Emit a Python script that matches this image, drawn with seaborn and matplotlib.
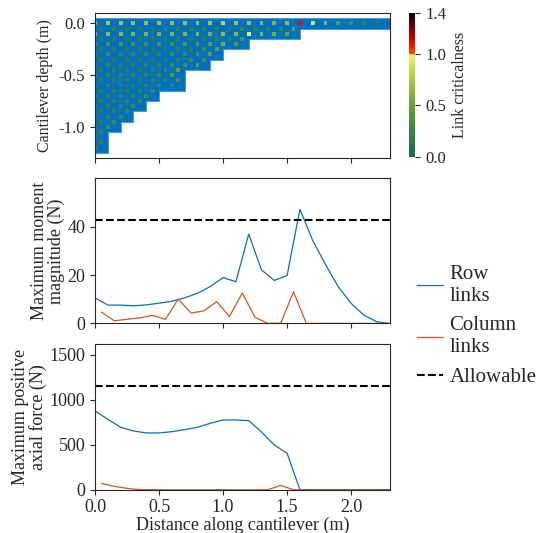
import numpy as np
import pandas as pd
import seaborn as sns
import matplotlib.pyplot as plt
from matplotlib.colors import LinearSegmentedColormap, Normalize
from matplotlib.cm import ScalarMappable

# lattice: depth (m) of each 0.1 m wide column, left to right
col_depth = [1.2, 1.0, 0.9, 0.8, 0.7, 0.6, 0.6, 0.4, 0.4, 0.3, 0.2, 0.2,
             0.1, 0.1, 0.1, 0.1, 0.0, 0.0, 0.0, 0.0, 0.0, 0.0, 0.0]

# link criticalness, one list per lattice row (top first)
row_link_crit = [
    [0.72, 0.74, 0.74, 0.72, 0.72, 0.70, 0.70, 0.70, 0.72, 0.74, 0.85, 0.72,
     0.72, 0.66, 0.62, 0.68, 1.10, 0.88, 0.62, 0.45, 0.35, 0.25, 0.20],
    [0.70, 0.68, 0.66, 0.64, 0.62, 0.62, 0.62, 0.64, 0.64, 0.62, 0.68, 0.62,
     0.95, 0.62, 0.58, 0.50],
    [0.42, 0.40, 0.38, 0.36, 0.36, 0.36, 0.38, 0.40, 0.42, 0.48, 0.60, 0.45],
    [0.30, 0.28, 0.27, 0.26, 0.26, 0.26, 0.28, 0.30, 0.35, 0.45],
    [0.28, 0.26, 0.25, 0.25, 0.25, 0.26, 0.28, 0.35, 0.45],
    [0.26, 0.25, 0.24, 0.24, 0.25, 0.30, 0.42],
    [0.25, 0.24, 0.23, 0.24, 0.26, 0.30, 0.30],
    [0.24, 0.23, 0.23, 0.25, 0.30],
    [0.24, 0.23, 0.25, 0.30],
    [0.24, 0.25, 0.30],
    [0.25, 0.30],
    [0.30],
    [0.30],
]
col_link_crit = [
    [0.22, 0.20, 0.20, 0.20, 0.20, 0.22, 0.25, 0.22, 0.22, 0.25, 0.20, 0.28,
     0.22, 0.22, 0.30, 0.45],
    [0.20, 0.20, 0.20, 0.20, 0.20, 0.20, 0.22, 0.20, 0.20, 0.22, 0.25, 0.40],
    [0.20, 0.20, 0.20, 0.20, 0.20, 0.20, 0.22, 0.22, 0.30, 0.45],
    [0.20, 0.20, 0.20, 0.20, 0.20, 0.20, 0.22, 0.30, 0.35],
    [0.20, 0.20, 0.20, 0.20, 0.22, 0.30, 0.50],
    [0.20, 0.20, 0.20, 0.20, 0.22, 0.30, 0.35],
    [0.20, 0.20, 0.20, 0.22, 0.30],
    [0.20, 0.20, 0.22, 0.28],
    [0.20, 0.22, 0.28],
    [0.22, 0.28],
    [0.25],
    [0.25],
]

# envelopes along the cantilever
x_row = [0.0, 0.1, 0.2, 0.3, 0.4, 0.5, 0.6, 0.7, 0.8, 0.9, 1.0, 1.1,
         1.2, 1.3, 1.4, 1.5, 1.6, 1.7, 1.8, 1.9, 2.0, 2.1, 2.2, 2.3]
x_col = [0.05, 0.15, 0.25, 0.35, 0.45, 0.55, 0.65, 0.75, 0.85, 0.95, 1.05, 1.15,
         1.25, 1.35, 1.45, 1.55, 1.65, 1.75, 1.85, 1.95, 2.05, 2.15, 2.25]
moment_row = [10.6, 7.6, 7.6, 7.3, 7.7, 8.4, 9.2, 10.6, 12.5, 15.3, 19.0, 17.3,
              37.0, 22.2, 17.8, 19.9, 47.3, 34.4, 24.4, 15.2, 8.3, 3.4, 0.7, 0.0]
moment_col = [4.7, 1.1, 1.7, 2.3, 3.3, 1.7, 10.1, 4.3, 5.2, 9.0, 2.9, 12.6,
              2.5, 0.0, 0.1, 13.1, 0.0, 0.0, 0.0, 0.0, 0.0, 0.0, 0.0]
axial_row = [874, 781, 693, 652, 630, 630, 644, 667, 693, 737, 774, 774,
             767, 641, 496, 404, 0, 0, 0, 0, 0, 0, 0, 0]
axial_col = [70, 38, 15, 2, 0, 0, 0, 0, 0, 0, 0, 0,
             0, 0, 48, 0, 0, 0, 0, 0, 0, 0, 0]
moment_allow = 43.0
axial_allow = 1155.0

sns.set_style('ticks')
plt.rcParams['font.family'] = ['Liberation Serif', 'DejaVu Serif']
plt.rcParams['font.size'] = 13
plt.rcParams['axes.unicode_minus'] = False

blue = '#0072BD'
orange = '#D95319'
crit_cmap = LinearSegmentedColormap.from_list('crit', [
    (0.0, '#1a6b50'), (0.25 / 1.4, '#3a8346'), (0.5 / 1.4, '#6a9f3c'),
    (0.75 / 1.4, '#a8c544'), (0.999 / 1.4, '#f5f56a'), (1.0 / 1.4, '#ff4a00'),
    (1.15 / 1.4, '#d00000'), (1.0, '#1a0000')])
norm = Normalize(0, 1.4)

fig = plt.figure(figsize=(5.4, 5.33), dpi=100)
ax_top = fig.add_axes([0.176, 0.7036, 0.5454, 0.2720])
ax_mid = fig.add_axes([0.176, 0.3932, 0.5454, 0.2724])
ax_bot = fig.add_axes([0.176, 0.0812, 0.5454, 0.2734])
cax = fig.add_axes([0.7569, 0.706, 0.0122, 0.269])

# --- lattice picture ---
edges = [0.1 * i for i in range(len(col_depth) + 1)]
bottoms = [-(d + 0.05) for d in col_depth] + [-(col_depth[-1] + 0.05)]
ax_top.fill_between(edges, bottoms, 0.05, step='post', color=blue,
                    edgecolor='#4a9ad6', lw=0.8)

nrow = [round(d * 10) for d in col_depth]
dots = []
for j, vals in enumerate(row_link_crit):
    cols = [i for i, n in enumerate(nrow) if n >= j]
    for i, v in zip(cols, vals):
        dots.append((0.1 * i, -0.1 * j, v))
for j, vals in enumerate(col_link_crit):
    cols = [i for i, n in enumerate(nrow) if n >= j + 1]
    for i, v in zip(cols, vals):
        dots.append((0.1 * i + 0.05, -0.1 * j - 0.05, v))
dots = pd.DataFrame(dots, columns=['x', 'y', 'crit'])
sns.scatterplot(data=dots, x='x', y='y', hue='crit', palette=crit_cmap,
                hue_norm=norm, marker='s', s=8, linewidth=0, legend=False,
                ax=ax_top)
ax_top.set_xlim(0, 2.3)
ax_top.set_ylim(-1.3, 0.1)
ax_top.set_yticks([0.0, -0.5, -1.0])
ax_top.set_xticks([0.0, 0.5, 1.0, 1.5, 2.0])
ax_top.set_xticklabels([])
ax_top.tick_params(labelsize=12)
ax_top.set_xlabel('')
ax_top.set_ylabel('Cantilever depth (m)', fontsize=11.5)

cbar = fig.colorbar(ScalarMappable(norm=norm, cmap=crit_cmap), cax=cax,
                    ticks=[0.0, 0.5, 1.0, 1.4])
cbar.set_label('Link criticalness', fontsize=11.5)
cbar.ax.tick_params(labelsize=12)
cbar.outline.set_visible(False)

# --- moment envelope ---
sns.lineplot(x=x_row, y=moment_row, color=blue, lw=0.9, estimator=None,
             ax=ax_mid, label='Row\nlinks')
sns.lineplot(x=x_col, y=moment_col, color=orange, lw=0.9, estimator=None,
             ax=ax_mid, label='Column\nlinks')
ax_mid.axhline(moment_allow, color='black', ls='--', lw=1.5, label='Allowable')
ax_mid.set_xlim(0, 2.3)
ax_mid.set_ylim(0, 1.4 * moment_allow)
ax_mid.set_yticks([0, 20, 40])
ax_mid.set_xticks([0.0, 0.5, 1.0, 1.5, 2.0])
ax_mid.set_xticklabels([])
ax_mid.set_ylabel('Maximum moment\nmagnitude (N)', linespacing=0.95, labelpad=2)
handles, labels = ax_mid.get_legend_handles_labels()
ax_mid.get_legend().remove()

# --- axial envelope ---
sns.lineplot(x=x_row, y=axial_row, color=blue, lw=0.9, estimator=None, ax=ax_bot)
sns.lineplot(x=x_col, y=axial_col, color=orange, lw=0.9, estimator=None, ax=ax_bot)
ax_bot.axhline(axial_allow, color='black', ls='--', lw=1.5)
ax_bot.set_xlim(0, 2.3)
ax_bot.set_ylim(0, 1.4 * axial_allow)
ax_bot.set_yticks([0, 500, 1000, 1500])
ax_bot.set_xticks([0.0, 0.5, 1.0, 1.5, 2.0])
ax_bot.set_xlabel('Distance along cantilever (m)', labelpad=0)
ax_bot.set_ylabel('Maximum positive\naxial force (N)', linespacing=0.95, labelpad=2)

for ax in (ax_top, ax_mid, ax_bot):
    for sp in ax.spines.values():
        sp.set_linewidth(0.8)

fig.legend(handles, labels, loc='center left', bbox_to_anchor=(0.738, 0.388),
           frameon=False, fontsize=15, handlelength=1.25, handletextpad=0.3)

fig.savefig('out.png', dpi=100)
